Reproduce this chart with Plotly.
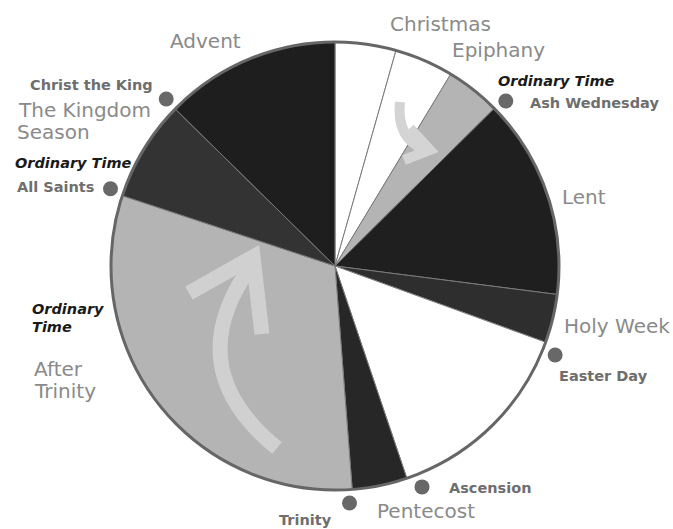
import plotly.graph_objects as go

# ---- data -------------------------------------------------------------
seasons = ["Christmas", "Epiphany", "Ordinary Time (after Epiphany)", "Lent",
           "Holy Week", "Easter", "Pentecost", "Ordinary Time (after Trinity)",
           "The Kingdom Season", "Advent"]
season_degrees = [15.8, 15.3, 14.2, 52.0, 12.6, 51.4, 14.3, 112.7, 26.2, 45.5]
season_colors = ["#ffffff", "#ffffff", "#b4b4b4", "#1f1f1f", "#2e2e2e",
                 "#ffffff", "#272727", "#b4b4b4", "#333333", "#1e1e1e"]

feasts = ["Ash Wednesday", "Easter Day", "Ascension", "Trinity",
          "All Saints", "Christ the King"]
feast_degrees = [46.0, 112.0, 158.5, 176.5, 289.0, 314.7]

# label texts: (text, left x, middle y) in page pixels
big_labels = [("Christmas", 388, 23.5), ("Epiphany", 450, 49.5), ("Lent", 560, 197),
              ("Holy Week", 562, 326), ("Pentecost", 375, 511), ("Advent", 168, 41),
              ("The Kingdom", 16, 110), ("Season", 15, 132),
              ("After", 32, 369), ("Trinity", 32, 391)]
small_labels = [("Ash Wednesday", 528, 103), ("Easter Day", 557, 376),
                ("Ascension", 447, 488), ("Trinity", 277, 520),
                ("Christ the King", 28, 85), ("All Saints", 15, 187)]
time_labels = [("Ordinary Time", 496, 81), ("Ordinary Time", 13, 163),
               ("Ordinary", 30, 309), ("Time", 30, 327)]

# ---- geometry ---------------------------------------------------------
W, H = 673, 529
CX, CY, R = 335, 266, 224
DOT_R = 1.06
POLAR_MAX = 1.1


def dom(rad):
    return dict(x=[(CX - rad) / W, (CX + rad) / W],
                y=[1 - (CY + rad) / H, 1 - (CY - rad) / H])


fig = go.Figure()

fig.add_trace(go.Pie(
    labels=seasons, values=season_degrees, sort=False, direction="clockwise",
    rotation=0, textinfo="none", hoverinfo="label", showlegend=False,
    marker=dict(colors=season_colors, line=dict(color="#7a7a7a", width=1)),
    domain=dom(R)))

# outer rim
fig.add_trace(go.Pie(
    labels=["year"], values=[1], sort=False, textinfo="none", hoverinfo="skip",
    showlegend=False,
    marker=dict(colors=["rgba(0,0,0,0)"], line=dict(color="#666666", width=3)),
    domain=dom(R)))

fig.add_trace(go.Scatterpolar(
    r=[DOT_R] * len(feasts), theta=feast_degrees, text=feasts, mode="markers",
    marker=dict(size=15, color="#686868"), hoverinfo="text",
    cliponaxis=False, showlegend=False, subplot="polar"))

# invisible pixel axes for the annotations / decorative arrows
fig.add_trace(go.Scatter(x=[0, W], y=[0, H], mode="markers",
                         marker=dict(opacity=0), hoverinfo="skip", showlegend=False))

annotations = []
for t, x, y in big_labels:
    annotations.append(dict(text=t, x=x, y=y, xref="x", yref="y", xanchor="left",
                            yanchor="middle", showarrow=False,
                            font=dict(family="DejaVu Sans", size=20, color="#8a8a8a")))
for t, x, y in small_labels:
    annotations.append(dict(text="<b>" + t + "</b>", x=x, y=y, xref="x", yref="y",
                            xanchor="left", yanchor="middle", showarrow=False,
                            font=dict(family="DejaVu Sans", size=14.5, color="#6e6e6e")))
for t, x, y in time_labels:
    annotations.append(dict(text="<b><i>" + t + "</i></b>", x=x, y=y, xref="x", yref="y",
                            xanchor="left", yanchor="middle", showarrow=False,
                            font=dict(family="DejaVu Sans", size=14.5, color="#1a1a1a")))

arrow_style = dict(type="path", xref="x", yref="y", layer="above",
                   line=dict(color="#d0d0d0", width=15))
small_arrow = dict(arrow_style, line=dict(color="#d4d4d4", width=10))
shapes = [
    dict(path="M 277 448 Q 176 366 254 262", **arrow_style),
    dict(path="M 189 293 L 253 257 L 262 334", **arrow_style),
    dict(path="M 400 102 Q 396 138 425 150", **small_arrow),
    dict(path="M 410 128 L 430 150 L 404 160", **small_arrow),
]

fig.update_layout(
    width=W, height=H, margin=dict(l=0, r=0, t=0, b=0),
    paper_bgcolor="white", plot_bgcolor="rgba(0,0,0,0)",
    xaxis=dict(range=[0, W], visible=False, fixedrange=True),
    yaxis=dict(range=[H, 0], visible=False, fixedrange=True),
    polar=dict(domain=dom(R * POLAR_MAX), bgcolor="rgba(0,0,0,0)",
               angularaxis=dict(rotation=90, direction="clockwise", visible=False),
               radialaxis=dict(range=[0, POLAR_MAX], visible=False)),
    annotations=annotations, shapes=shapes,
)

fig.write_html("out.html", config={"displayModeBar": False},
               post_script="document.body.style.margin='0px';")
